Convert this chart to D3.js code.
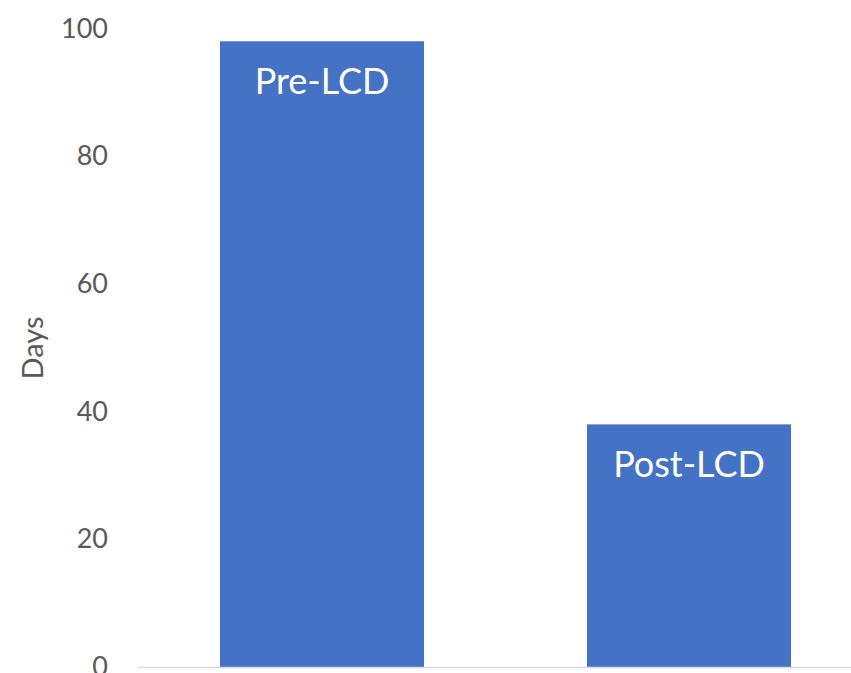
<!DOCTYPE html>
<html>
<head>
<meta charset="utf-8">
<script src="https://cdn.jsdelivr.net/npm/d3@7"></script>
<style>
  body { margin: 0; background: #fff; }
  svg { display: block; font-family: Lato, "Open Sans", sans-serif; }
</style>
</head>
<body>
<script>
// data
var categories = ["Pre-LCD", "Post-LCD"];
var values = [98, 38];
var yTicks = [0, 20, 40, 60, 80, 100];

var width = 851, height = 673;

var svg = d3.select("body").append("svg")
    .attr("width", width)
    .attr("height", height);

// x scale (band), plot area runs a bit past the right edge like the original
var xScale = d3.scaleBand()
    .domain(categories)
    .range([138.5, 872.5])
    .paddingInner(0.444)
    .paddingOuter(0.222);

var yScale = d3.scaleLinear()
    .domain([0, 100])
    .range([667, 28.5]);

// y axis labels only
var yAxis = svg.append("g")
    .attr("transform", "translate(108,0)")
    .call(d3.axisLeft(yScale).tickValues(yTicks).tickSize(0).tickPadding(0));
yAxis.select(".domain").remove();
yAxis.selectAll("text")
    .attr("fill", "#595959")
    .style("font-size", "27px")
    .style("font-family", "Lato, 'Open Sans', sans-serif");

// bars
svg.selectAll(".bar")
    .data(values)
    .enter()
    .append("rect")
    .attr("class", "bar")
    .attr("x", (d, i) => xScale(categories[i]))
    .attr("y", d => yScale(d))
    .attr("width", xScale.bandwidth())
    .attr("height", d => yScale(0) - yScale(d))
    .attr("fill", "#4472c4");

// labels inside bars
svg.selectAll(".lbl")
    .data(values)
    .enter()
    .append("text")
    .attr("class", "lbl")
    .attr("x", (d, i) => xScale(categories[i]) + xScale.bandwidth() / 2)
    .attr("y", d => yScale(d) + 53)
    .attr("text-anchor", "middle")
    .attr("fill", "#fff")
    .style("font-size", "36px")
    .text((d, i) => categories[i]);

// baseline
svg.append("line")
    .attr("x1", 138).attr("x2", width)
    .attr("y1", yScale(0) + 0.5).attr("y2", yScale(0) + 0.5)
    .attr("stroke", "#d9d9d9")
    .attr("stroke-width", 1.5);

// y axis title
svg.append("text")
    .attr("transform", "translate(43,348) rotate(-90)")
    .attr("text-anchor", "middle")
    .attr("fill", "#595959")
    .style("font-size", "29px")
    .text("Days");
</script>
</body>
</html>
